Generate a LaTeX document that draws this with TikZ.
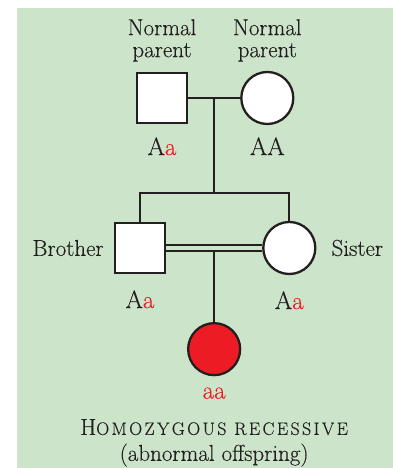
\documentclass[tikz,border=0pt]{standalone}
\usepackage{fontspec}
\setmainfont{Latin Modern Roman}
\usetikzlibrary{positioning,calc}
\definecolor{bgc}{HTML}{CCE5CA}
\definecolor{inkc}{HTML}{231F20}
\definecolor{redc}{HTML}{ED1C24}
\newcommand{\rec}[1]{\textcolor{redc}{#1}}
\newcommand{\smc}[1]{{\fontsize{18}{20}\selectfont\addfontfeature{LetterSpace=13}#1}}
\tikzset{
  male/.style    ={draw=inkc,line width=2.3pt,fill=white,minimum size=50pt,inner sep=0pt},
  female/.style  ={male,circle,minimum size=52pt},
  affected/.style={female,fill=redc},
  lbl/.style     ={font=\fontsize{23}{22}\selectfont\addfontfeature{FakeBold=0.3},text=inkc,align=center,inner sep=0pt},
  geno/.style    ={font=\fontsize{25}{25}\selectfont\addfontfeature{FakeBold=0.3},text=inkc,inner sep=0pt},
  ttl/.style     ={lbl,font=\fontsize{23}{26}\selectfont\addfontfeature{FakeBold=0.3}},
  ln/.style      ={draw=inkc,line width=2.3pt},
  cons/.style    ={ln,double=bgc,double distance=4pt},
}
\begin{document}
\begin{tikzpicture}[x=1pt,y=1pt]
\useasboundingbox (0,0) rectangle (393,468);
\fill[bgc] (17,0) rectangle (393,460);

% parents
\node[male] (father) at (162,370) {};
\node[female,right=52pt of father] (mother) {};
\node[lbl,above=10pt of father] (nf) {Normal\\parent};
\node[lbl,above=9pt of mother]  (nm) {Normal\\parent};
\node[geno,below=13pt of father] (gf) {A\rec{a}};
\node[geno,below=12pt of mother] (gm) {AA};
\coordinate (mate) at ($(father.east)!.5!(mother.west)$);
\coordinate (sibbar) at ($(mate)+(0,-95)$);
\draw[ln] (father) -- (mother);
\draw[ln] (mate) -- (sibbar);

% siblings
\node[male] (brother) at (140,220) {};
\node[female,right=96pt of brother] (sister) {};
\node[lbl,left=10pt of brother] (nb) {Brother};
\node[lbl,right=15pt of sister] (ns) {Sister};
\node[geno,below=16pt of brother] (gb) {A\rec{a}};
\node[geno,below=16pt of sister]  (gs) {A\rec{a}};
\draw[ln] (brother.north) |- (sibbar) -| (sister.north);
\draw[cons] (brother) -- (sister);
\coordinate (cmid) at ($(brother.east)!.5!(sister.west)$);

% offspring
\node[affected,below=74pt of cmid] (child) {};
\draw[ln] ([yshift=-3.15pt]cmid) -- (child);
\node[geno,text=redc,below=11pt of child] (gc) {aa};
\node[ttl,below=20pt of gc] (tt) {H\smc{OMOZYGOUS RECESSIVE}\\(abnormal offspring)};
\end{tikzpicture}
\end{document}
